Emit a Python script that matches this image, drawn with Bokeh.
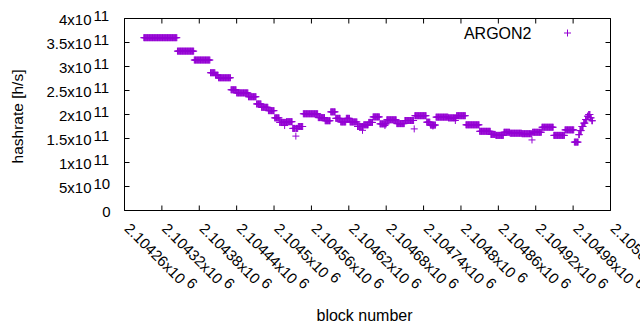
import math
from bokeh.plotting import figure
from bokeh.models import Range1d, Label, ColumnDataSource
from bokeh.embed import file_html
from bokeh.resources import INLINE

# ---------------- data ----------------
# runs of equal hashrate estimate: first block, last block, hashrate [h/s]
run_first = [2104291, 2104345, 2104372, 2104398, 2104406, 2104411, 2104431, 2104440,
             2104459, 2104472, 2104480, 2104491, 2104501, 2104509, 2104520, 2104530,
             2104535, 2104536, 2104539, 2104547, 2104571, 2104582, 2104591, 2104599,
             2104607, 2104616, 2104622, 2104634, 2104644, 2104652, 2104659, 2104670,
             2104681, 2104697, 2104710, 2104725, 2104726, 2104745, 2104751, 2104760,
             2104780, 2104793, 2104808, 2104830, 2104848, 2104856, 2104869, 2104879,
             2104898, 2104914, 2104915, 2104930, 2104949, 2104967, 2104982, 2104989,
             2104991, 2104994, 2104997, 2105000, 2105003, 2105005, 2105008, 2105010,
             2104517, 2104642, 2104678, 2104755, 2104791]
run_last = [2104344, 2104371, 2104397, 2104405, 2104410, 2104430, 2104439, 2104458,
            2104471, 2104479, 2104490, 2104500, 2104508, 2104519, 2104529, 2104534,
            2104535, 2104538, 2104546, 2104570, 2104581, 2104590, 2104598, 2104606,
            2104615, 2104621, 2104633, 2104643, 2104651, 2104658, 2104669, 2104680,
            2104696, 2104709, 2104724, 2104725, 2104744, 2104750, 2104759, 2104779,
            2104792, 2104807, 2104829, 2104847, 2104855, 2104868, 2104878, 2104897,
            2104913, 2104914, 2104929, 2104948, 2104966, 2104981, 2104988, 2104990,
            2104993, 2104996, 2104999, 2105002, 2105004, 2105007, 2105009, 2105011,
            2104517, 2104642, 2104678, 2104755, 2104791]
run_rate = [3.60e11, 3.32e11, 3.135e11, 2.87e11, 2.82e11, 2.765e11, 2.515e11, 2.45e11,
            2.37e11, 2.22e11, 2.15e11, 2.08e11, 1.93e11, 1.835e11, 1.85e11, 1.71e11,
            1.55e11, 1.71e11, 1.75e11, 2.015e11, 1.935e11, 1.87e11, 2.055e11, 1.92e11,
            1.845e11, 1.92e11, 1.845e11, 1.75e11, 1.785e11, 1.835e11, 1.95e11, 1.805e11,
            1.89e11, 1.81e11, 1.875e11, 1.70e11, 1.975e11, 1.84e11, 1.78e11, 1.945e11,
            1.93e11, 1.975e11, 1.785e11, 1.65e11, 1.585e11, 1.565e11, 1.63e11, 1.61e11,
            1.60e11, 1.47e11, 1.63e11, 1.735e11, 1.565e11, 1.68e11, 1.425e11, 1.58e11,
            1.665e11, 1.75e11, 1.82e11, 1.895e11, 1.965e11, 2.0e11, 1.93e11, 1.87e11,
            1.77e11, 1.67e11, 1.77e11, 1.76e11, 1.875e11]

series_name = "ARGON2"

x_ticks = [2104260, 2104320, 2104380, 2104440, 2104500, 2104560, 2104620,
           2104680, 2104740, 2104800, 2104860, 2104920, 2104980, 2105040]
x_tick_mant = ["2.10426x10", "2.10432x10", "2.10438x10", "2.10444x10", "2.1045x10",
               "2.10456x10", "2.10462x10", "2.10468x10", "2.10474x10", "2.1048x10",
               "2.10486x10", "2.10492x10", "2.10498x10", "2.10504x10"]
x_tick_exp = ["6"] * len(x_ticks)

y_ticks = [0, 5e10, 1e11, 1.5e11, 2e11, 2.5e11, 3e11, 3.5e11, 4e11]
y_tick_mant = ["0", "5x10", "1x10", "1.5x10", "2x10", "2.5x10", "3x10", "3.5x10", "4x10"]
y_tick_exp = ["", "10", "11", "11", "11", "11", "11", "11", "11"]

x_title = "block number"
y_title = "hashrate [h/s]"

# ---------------- layout / styling ----------------
W, H = 640, 330
LEFT, TOP, FW, FH = 124, 18, 486, 192      # plot box in canvas pixels
FONT = "Liberation Sans"
FS = 15
FSZ = f"{FS}px"
COLOR = "#9400d3"
TICK = 5

x0, x1 = x_ticks[0], x_ticks[-1]
y0, y1 = y_ticks[0], y_ticks[-1]
kx = (x1 - x0) / FW
ky = (y1 - y0) / FH
x_range = Range1d(x0 - LEFT * kx, x1 + (W - LEFT - FW) * kx)
y_range = Range1d(y0 - (H - TOP - FH) * ky, y1 + TOP * ky)

blocks, rates = [], []
for a, b, r in zip(run_first, run_last, run_rate):
    for blk in range(a, b + 1):
        blocks.append(blk)
        rates.append(r)
src = ColumnDataSource(dict(block=blocks, rate=rates))

p = figure(width=W, height=H, x_range=x_range, y_range=y_range,
           x_axis_type=None, y_axis_type=None, min_border=0,
           output_backend="svg", toolbar_location=None)
p.outline_line_color = None
p.background_fill_color = "white"
p.border_fill_color = "white"

# plot box and inward ticks on all four sides
p.quad(left=[x0], right=[x1], bottom=[y0], top=[y1], fill_color=None,
       line_color="black", line_width=1)
p.ray(x=x_ticks, y=[y0] * len(x_ticks), length=TICK, length_units="screen",
      angle=math.pi / 2, line_color="black", line_width=1)
p.ray(x=x_ticks, y=[y1] * len(x_ticks), length=TICK, length_units="screen",
      angle=-math.pi / 2, line_color="black", line_width=1)
p.ray(x=[x0] * len(y_ticks), y=y_ticks, length=TICK, length_units="screen",
      angle=0, line_color="black", line_width=1)
p.ray(x=[x1] * len(y_ticks), y=y_ticks, length=TICK, length_units="screen",
      angle=math.pi, line_color="black", line_width=1)

p.scatter(x="block", y="rate", source=src, marker="cross", size=7,
          line_color=COLOR, line_width=1)

# character advance widths (em) of Liberation Sans for label layout
CW = {".": 0.278, "x": 0.5}
def text_w(s):
    return sum(CW.get(c, 0.556) for c in s) * FS

def lab(**kw):
    kw.setdefault("text_font", FONT)
    kw.setdefault("text_font_size", FSZ)
    kw.setdefault("text_color", "black")
    p.add_layout(Label(**kw))

# y tick labels
for v, m, e in zip(y_ticks, y_tick_mant, y_tick_exp):
    if e:
        lab(x=x0, y=v, text=m, x_offset=-33, y_offset=-1,
            text_align="right", text_baseline="middle")
        lab(x=x0, y=v, text=e, x_offset=-31, y_offset=3,
            text_align="left", text_baseline="middle")
    else:
        lab(x=x0, y=v, text=m, x_offset=-14, y_offset=-1,
            text_align="right", text_baseline="middle")

# x tick labels, rotated by -45 degrees
ang = -math.pi / 4
c = math.cos(math.pi / 4)
for t, m, e in zip(x_ticks, x_tick_mant, x_tick_exp):
    ox, oy = 3.0, -15
    lab(x=t, y=y0, text=m, x_offset=ox, y_offset=oy, angle=ang,
        text_align="left", text_baseline="middle")
    L = text_w(m) + 4
    up = 4.5
    lab(x=t, y=y0, text=e, x_offset=ox + L * c + up * c,
        y_offset=oy - L * c + up * c, angle=ang,
        text_align="left", text_baseline="middle")

# axis titles
lab(x=(x0 + x1) / 2, y=y0, text=x_title, x_offset=-3, y_offset=-105,
    text_align="center", text_baseline="middle", text_font_size="16px")
lab(x=x0, y=(y0 + y1) / 2, text=y_title, x_offset=-107, y_offset=-2,
    angle=math.pi / 2, text_align="center", text_baseline="middle",
    text_font_size="15.5px")

# legend (gnuplot style: text, then the sample on its right)
p.extra_x_ranges = {"px": Range1d(0, W)}
p.extra_y_ranges = {"px": Range1d(H, 0)}
lab(x=531, y=H - 32.5, x_units="screen", y_units="screen", text=series_name,
    text_align="right", text_baseline="middle", text_font_size="16px")
p.scatter(x=[567], y=[32.5], x_range_name="px", y_range_name="px", marker="cross",
          size=7, line_color=COLOR, line_width=1)

open("out.html", "w").write(file_html(p, INLINE))
